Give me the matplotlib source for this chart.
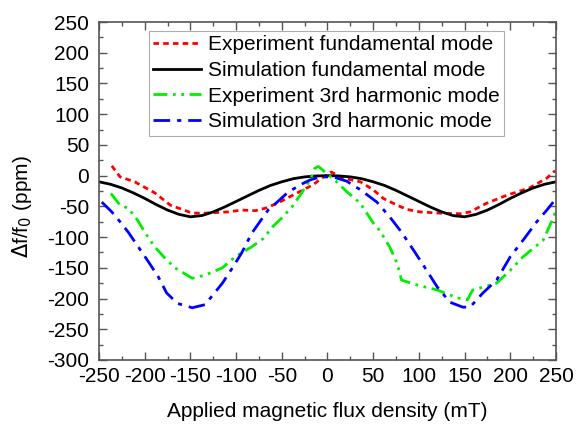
import matplotlib
matplotlib.use("Agg")
import matplotlib.pyplot as plt
from matplotlib.ticker import MultipleLocator

plt.rcParams["font.family"] = ["Liberation Sans", "DejaVu Sans"]
plt.rcParams["axes.unicode_minus"] = False

# Experiment, fundamental mode
exp_fund_x = [-236, -227, -211, -189, -172, -148, -134, -109, -94, -79, -68, -55, -33, -16, -8, 4,
              17, 36, 50, 61, 76, 87, 101, 123, 145, 156, 174, 196, 221, 240, 249]
exp_fund_y = [16, -2, -10, -28, -48, -61, -61, -59, -56, -57, -53, -45, -28, -15, -6, 6,
              -4, -10, -23, -37, -48, -55, -59, -61, -62, -59, -45, -32, -20, -4, 8]

# Simulation, fundamental mode
sim_fund_x = [-250, -237.5, -225, -212.5, -200, -187.5, -175, -162.5, -150, -137.5, -125, -112.5,
              -100, -87.5, -75, -62.5, -50, -37.5, -25, -12.5, 0, 12.5, 25, 37.5, 50, 62.5, 75,
              87.5, 100, 112.5, 125, 137.5, 150, 162.5, 175, 187.5, 200, 212.5, 225, 237.5, 250]
sim_fund_y = [-10, -14, -20, -28, -37, -47, -56, -63, -67, -65, -59, -51,
              -42, -33, -24, -16, -10, -5, -2, -0.5, 0, -0.5, -2, -5, -10, -16, -24,
              -33, -42, -51, -59, -65, -67, -63, -56, -47, -37, -28, -20, -14, -10]

# Experiment, 3rd harmonic mode
exp_3rd_x = [-237, -227, -218, -208, -200, -189, -178, -167, -148, -134, -115, -101, -83, -70,
             -60, -50, -39, -30, -19, -14, -10, 10, 21, 36, 50, 57, 68, 76, 81, 98, 120, 142,
             153, 159, 174, 185, 200, 214, 236, 246, 250]
exp_3rd_y = [-29, -48, -53, -72, -92, -116, -134, -150, -167, -162, -150, -132, -116, -102,
             -83, -69, -51, -32, -7, 12, 15, -10, -26, -45, -77, -89, -116, -142, -170, -178,
             -186, -199, -202, -186, -180, -175, -154, -132, -105, -72, -57]

# Simulation, 3rd harmonic mode
sim_3rd_x = [-247, -236, -227, -218, -207, -196, -185, -176, -164, -148, -134, -115, -104, -94,
             -83, -74, -65, -55, -44, -30, -19, -8, 6, 21, 36, 54, 68, 81, 94, 105, 120, 134,
             148, 156, 170, 185, 200, 214, 229, 240, 247]
sim_3rd_y = [-43, -59, -75, -92, -116, -140, -165, -191, -208, -215, -210, -175, -150, -126,
             -94, -75, -56, -43, -28, -15, -7, -2, -2, -9, -23, -43, -67, -92, -121, -146, -181,
             -206, -214, -214, -191, -170, -132, -105, -75, -56, -43]

labels = ["Experiment fundamental mode", "Simulation fundamental mode",
          "Experiment 3rd harmonic mode", "Simulation 3rd harmonic mode"]

FS = 15

fig = plt.figure(figsize=(5.8, 4.24), dpi=100)
ax = fig.add_axes([0.1707, 0.151, 0.7879, 0.797])

ax.plot(exp_fund_x, exp_fund_y, color="#ff0000", lw=2, ls=(0, (2, 1.5)), label=labels[0])
ax.plot(sim_fund_x, sim_fund_y, color="black", lw=2, ls="-", label=labels[1])
ax.plot(exp_3rd_x, exp_3rd_y, color="#00ee00", lw=2, ls=(0, (5, 2, 1, 2, 1, 2)), label=labels[2])
ax.plot(sim_3rd_x, sim_3rd_y, color="#0000ff", lw=2, ls=(0, (6, 2.5, 1.5, 2.5)), label=labels[3])

ax.set_xlim(-250, 250)
ax.set_ylim(-300, 250)
ax.xaxis.set_major_locator(MultipleLocator(50))
ax.xaxis.set_minor_locator(MultipleLocator(25))
ax.yaxis.set_major_locator(MultipleLocator(50))
ax.yaxis.set_minor_locator(MultipleLocator(25))
ax.tick_params(which="both", direction="in", top=True, right=True, color="#555555",
               labelsize=FS)
ax.tick_params(axis="x", pad=5)
ax.tick_params(axis="y", pad=7)
ax.tick_params(which="major", length=6, width=1)
ax.tick_params(which="minor", length=3, width=1)
for s in ax.spines.values():
    s.set_color("#555555")
    s.set_linewidth(1.2)

ax.set_xlabel("Applied magnetic flux density (mT)", fontsize=FS)
ax.xaxis.set_label_coords(0.5, -0.125)
ax.set_ylabel("$\\Delta$f/f$_0$ (ppm)", fontsize=FS)
ax.yaxis.set_label_coords(-0.142, 0.453)

leg = ax.legend(loc="upper left", bbox_to_anchor=(0.109, 0.973), fontsize=FS, frameon=True,
                fancybox=False, handlelength=2.3, handletextpad=0.35, labelspacing=0.32,
                borderpad=0.2, borderaxespad=0.0)
leg.get_frame().set_edgecolor("#999999")
leg.get_frame().set_linewidth(0.8)

fig.savefig("out.png", dpi=100)
